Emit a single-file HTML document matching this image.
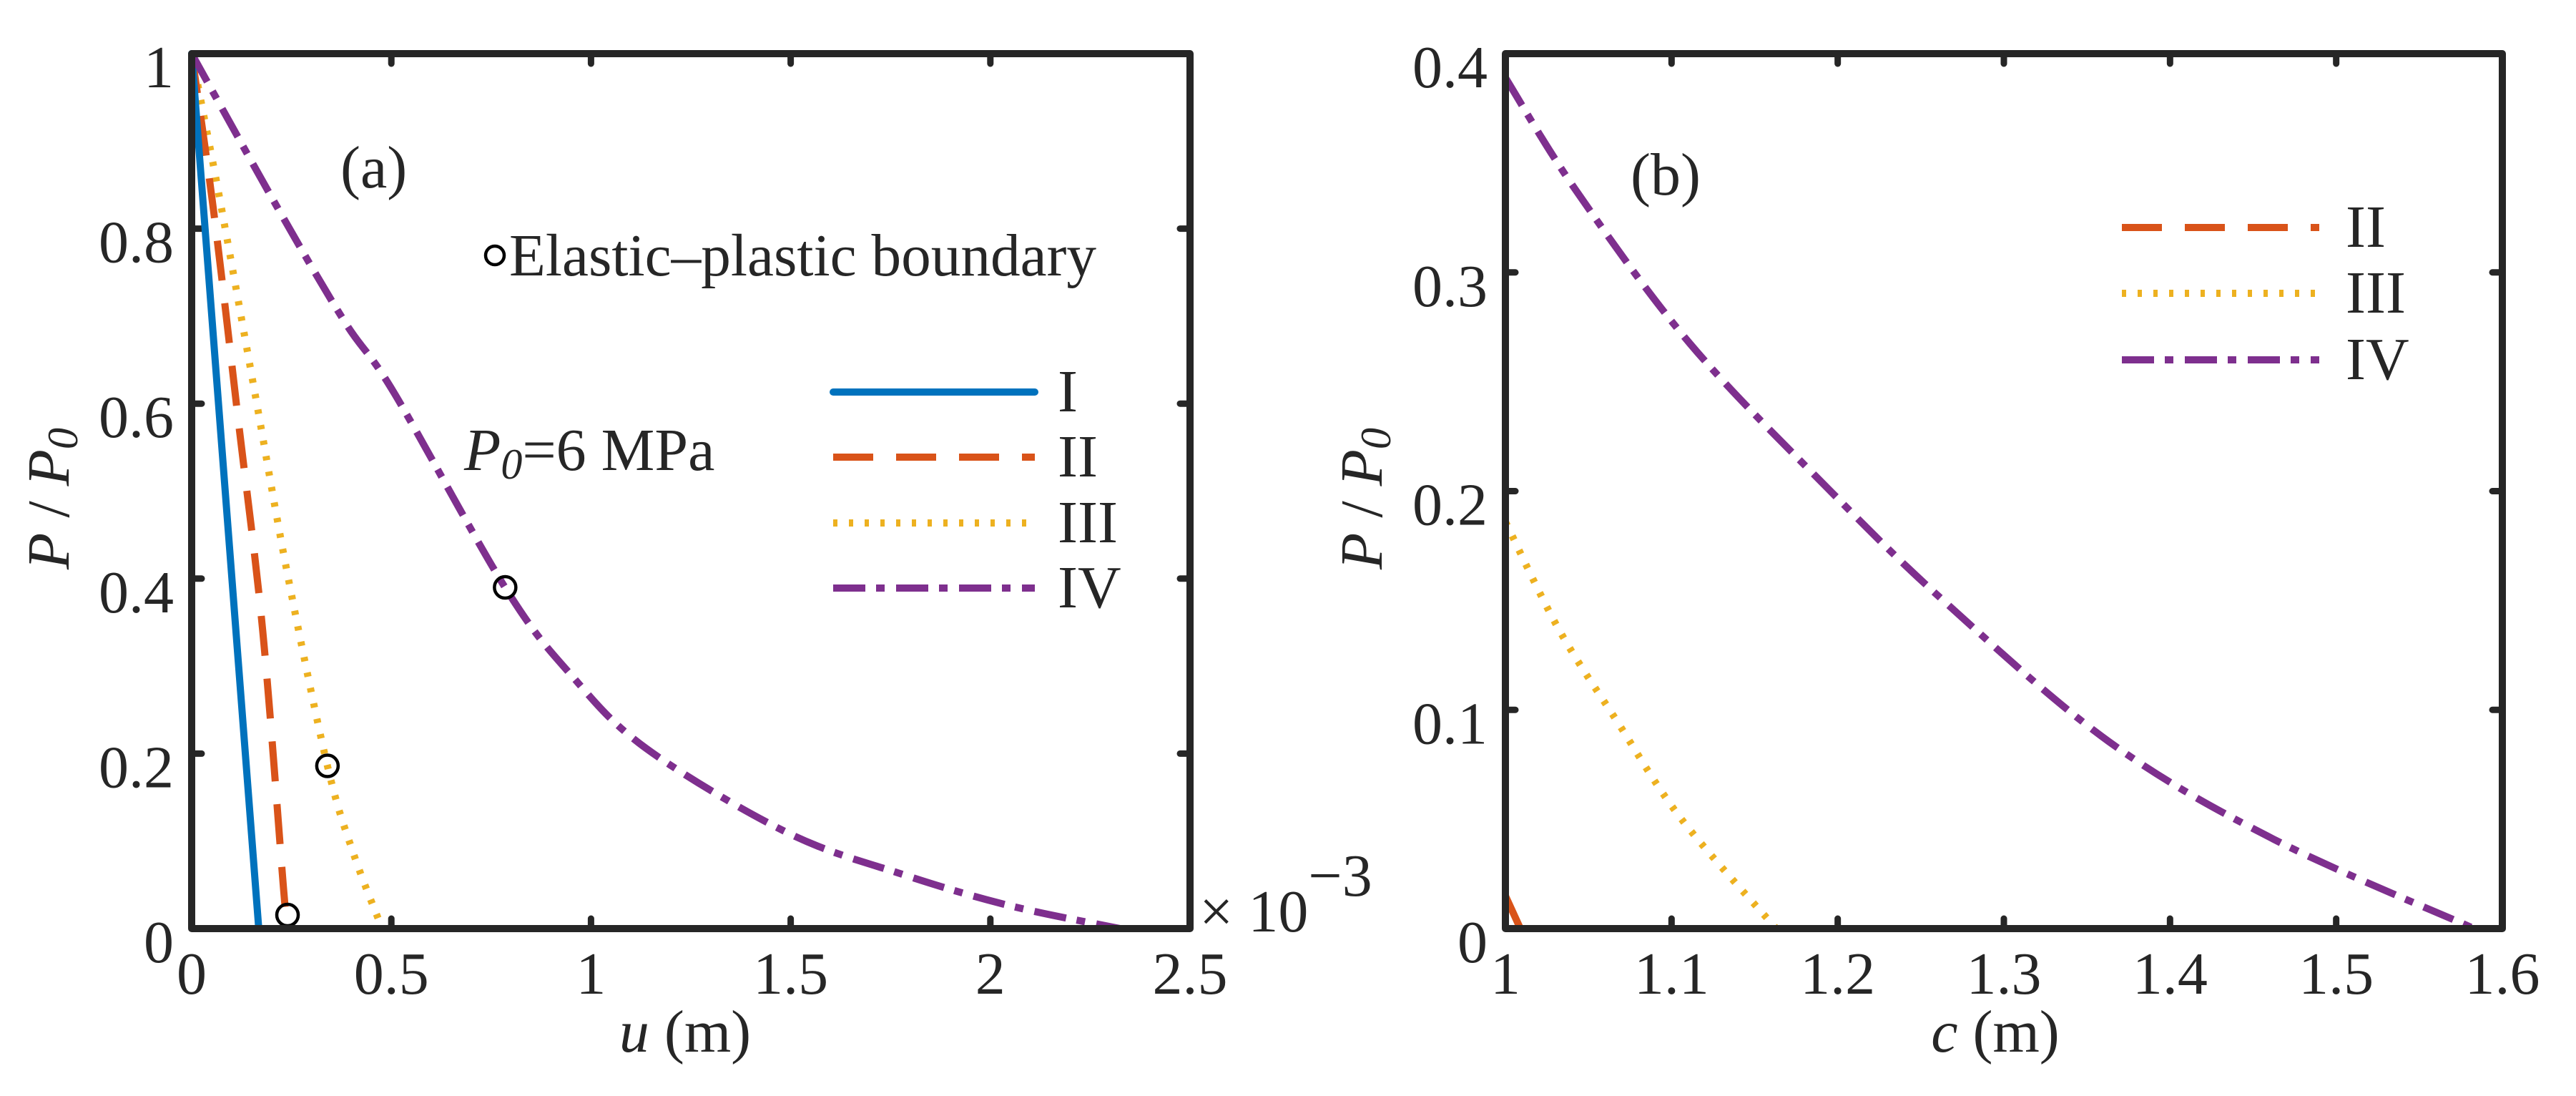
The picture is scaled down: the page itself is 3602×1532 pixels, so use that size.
<!DOCTYPE html>
<html><head><meta charset="utf-8"><style>
html,body{margin:0;padding:0;background:#fff}
svg{display:block}
text{font-family:"Liberation Serif",serif;fill:#262626}
</style></head><body>
<svg id="fig" xmlns="http://www.w3.org/2000/svg" width="3602" height="1532" viewBox="0 0 3602 1532">
<g id="pa"></g>
<g id="pb"></g>
</svg>
<script>
// Panel (a) data: u (x10^-3 m) vs P/P0
const aTicksX = [0, 0.5, 1, 1.5, 2, 2.5];
const aTickLabelsX = ["0", "0.5", "1", "1.5", "2", "2.5"];
const aTicksY = [0, 0.2, 0.4, 0.6, 0.8, 1];
const aTickLabelsY = ["0", "0.2", "0.4", "0.6", "0.8", "1"];
const aIx = [0, 0.168];
const aIy = [1, 0];
const aIIx = [0, 0.055, 0.117, 0.178, 0.23, 0.24];
const aIIy = [1, 0.82, 0.58, 0.34, 0.046, 0];
const aIIIx = [0, 0.03, 0.076, 0.158, 0.24, 0.34, 0.405, 0.477];
const aIIIy = [1, 0.93, 0.82, 0.613, 0.405, 0.186, 0.086, 0];
const aIVx = [0, 0.22, 0.384, 0.506, 0.786, 0.95, 1.138, 1.49, 1.78, 2.05, 2.325];
const aIVy = [1, 0.82, 0.693, 0.613, 0.389, 0.29, 0.206, 0.11, 0.062, 0.026, 0];
const aBoundX = [0.24, 0.34, 0.785];
const aBoundY = [0.0155, 0.186, 0.39];
// Panel (b) data: c (m) vs P/P0
const bTicksX = [1, 1.1, 1.2, 1.3, 1.4, 1.5, 1.6];
const bTickLabelsX = ["1", "1.1", "1.2", "1.3", "1.4", "1.5", "1.6"];
const bTicksY = [0, 0.1, 0.2, 0.3, 0.4];
const bTickLabelsY = ["0", "0.1", "0.2", "0.3", "0.4"];
const bIIx = [1.0, 1.009];
const bIIy = [0.015, 0];
const bIIIx = [1.0, 1.032, 1.067, 1.106, 1.163];
const bIIIy = [0.186, 0.137, 0.095, 0.05, 0];
const bIVx = [1.0, 1.042, 1.111, 1.195, 1.265, 1.363, 1.462, 1.583];
const bIVy = [0.389, 0.338, 0.2675, 0.2005, 0.149, 0.0856, 0.041, 0];

const NS = "http://www.w3.org/2000/svg";
function mk(tag, parent, attrs, txt) {
  const e = document.createElementNS(NS, tag);
  for (const k in attrs) e.setAttribute(k, attrs[k]);
  if (txt !== undefined) e.textContent = txt;
  parent.appendChild(e);
  return e;
}
const COL = {I: "#0072BD", II: "#D95319", III: "#EDB120", IV: "#7E2F8E"};
const STY = {
  I: {dash: "none", cap: "round"},
  II: {dash: "56 32", cap: "butt"},
  III: {dash: "6 16", cap: "butt"},
  IV: {dash: "45 15 12 16", cap: "butt"}
};
const FS = 84;

function smoothPath(xs, ys, sx, sy) {
  const P = xs.map((x, i) => [sx(x), sy(ys[i])]);
  if (P.length < 3) return "M" + P.map(p => p.join(",")).join(" L");
  let d = "M" + P[0][0] + "," + P[0][1];
  for (let i = 0; i < P.length - 1; i++) {
    const p0 = P[Math.max(0, i - 1)], p1 = P[i], p2 = P[i + 1], p3 = P[Math.min(P.length - 1, i + 2)];
    const c1 = [p1[0] + (p2[0] - p0[0]) / 6, p1[1] + (p2[1] - p0[1]) / 6];
    const c2 = [p2[0] - (p3[0] - p1[0]) / 6, p2[1] - (p3[1] - p1[1]) / 6];
    d += " C" + c1.join(",") + " " + c2.join(",") + " " + p2.join(",");
  }
  return d;
}

function axes(g, L, R, T, B, xmin, xmax, ymin, ymax, tx, txl, ty, tyl, prefix) {
  const sx = v => L + (v - xmin) / (xmax - xmin) * (R - L);
  const sy = v => B - (v - ymin) / (ymax - ymin) * (B - T);
  tx.forEach((v, i) => {
    const x = sx(v);
    const t1 = mk("line", g, {x1: x, y1: B, x2: x, y2: B - 14, stroke: "#262626", "stroke-width": 9, "stroke-linecap": "round"});
    
    
    const t2 = mk("line", g, {x1: x, y1: T, x2: x, y2: T + 14, stroke: "#262626", "stroke-width": 9, "stroke-linecap": "round"});
    
    
    const lb = mk("text", g, {x: x, y: 1389, "font-size": FS, "text-anchor": "middle"}, txl[i]);
    
    
  });
  ty.forEach((v, i) => {
    const y = sy(v);
    const t1 = mk("line", g, {x1: L, y1: y, x2: L + 14, y2: y, stroke: "#262626", "stroke-width": 9, "stroke-linecap": "round"});
    
    
    const t2 = mk("line", g, {x1: R, y1: y, x2: R - 14, y2: y, stroke: "#262626", "stroke-width": 9, "stroke-linecap": "round"});
    
    
    const lb = mk("text", g, {x: L - 25, y: y + 47, "font-size": FS, "text-anchor": "end"}, tyl[i]);
    
    
  });
  return {sx, sy};
}
function frame(g, L, R, T, B, prefix) {
  const f = mk("rect", g, {x: L, y: T, width: R - L, height: B - T, fill: "none", stroke: "#262626", "stroke-width": 10, "stroke-linejoin": "round"});
  
  
}
function series(g, xs, ys, sx, sy, key, prefix) {
  const p = mk("path", g, {d: smoothPath(xs, ys, sx, sy), fill: "none", stroke: COL[key], "stroke-width": 10,
    "stroke-dasharray": STY[key].dash, "stroke-linecap": STY[key].cap, "stroke-linejoin": "round"});
  
  
}
function legend(g, x1, x2, tx, rows, prefix) {
  rows.forEach(r => {
    const ln = mk("line", g, {x1: x1, y1: r[1], x2: x2, y2: r[1], stroke: COL[r[0]], "stroke-width": 10,
      "stroke-dasharray": STY[r[0]].dash, "stroke-linecap": r[0] === "I" ? "round" : "butt"});
    
    
    const t = mk("text", g, {x: tx, y: r[1] + 27, "font-size": FS}, r[0]);
    
    
  });
}
function ylabel(g, cx, cy, prefix) {
  const t = mk("text", g, {x: 0, y: 0, "font-size": FS, "text-anchor": "middle", transform: "translate(" + cx + "," + cy + ") rotate(-90)"});
  
  
  mk("tspan", t, {"font-style": "italic"}, "P");
  mk("tspan", t, {}, " / ");
  mk("tspan", t, {"font-style": "italic"}, "P");
  mk("tspan", t, {"font-style": "italic", "font-size": 60, dy: 12}, "0");
}

// ---------- Panel a ----------
const ga = document.getElementById("pa");
const A = axes(ga, 268, 1664, 75, 1298, 0, 2.5, 0, 1, aTicksX, aTickLabelsX, aTicksY, aTickLabelsY, "a");
series(ga, aIIIx, aIIIy, A.sx, A.sy, "III", "a");
series(ga, aIIx, aIIy, A.sx, A.sy, "II", "a");
series(ga, aIx, aIy, A.sx, A.sy, "I", "a");
series(ga, aIVx, aIVy, A.sx, A.sy, "IV", "a");
aBoundX.forEach((v, i) => {
  const c = mk("circle", ga, {cx: A.sx(v), cy: A.sy(aBoundY[i]), r: 15, fill: "none", stroke: "#000", "stroke-width": 4.5});
  
  
});
frame(ga, 268, 1664, 75, 1298, "a");
legend(ga, 1165, 1447, 1479, [["I", 548], ["II", 639], ["III", 731], ["IV", 822]], "a");
const lc = mk("circle", ga, {cx: 692, cy: 357, r: 13, fill: "none", stroke: "#000", "stroke-width": 4.5});


const et = mk("text", ga, {x: 712, y: 385, "font-size": FS, textLength: 821, lengthAdjust: "spacingAndGlyphs"}, "Elastic\u2013plastic boundary");


const ta = mk("text", ga, {x: 476, y: 262, "font-size": FS}, "(a)");


const p0 = mk("text", ga, {x: 649, y: 657, "font-size": FS});


mk("tspan", p0, {"font-style": "italic"}, "P");
mk("tspan", p0, {"font-style": "italic", "font-size": 60, dy: 12}, "0");
mk("tspan", p0, {dy: -12}, "=6 MPa");
const xa = mk("text", ga, {x: 958, y: 1470, "font-size": FS, "text-anchor": "middle"});


mk("tspan", xa, {"font-style": "italic"}, "u");
mk("tspan", xa, {}, " (m)");
ylabel(ga, 96, 697, "a");
const ex = mk("text", ga, {x: 1677, y: 1302, "font-size": FS});


mk("tspan", ex, {}, "\u00d7 10");
mk("tspan", ex, {dy: -50}, "\u22123");

// ---------- Panel b ----------
const gb = document.getElementById("pb");
const Bx = axes(gb, 2105, 3499, 75, 1298, 1, 1.6, 0, 0.4, bTicksX, bTickLabelsX, bTicksY, bTickLabelsY, "b");
series(gb, bIIIx, bIIIy, Bx.sx, Bx.sy, "III", "b");
series(gb, bIIx, bIIy, Bx.sx, Bx.sy, "II", "b");
series(gb, bIVx, bIVy, Bx.sx, Bx.sy, "IV", "b");
frame(gb, 2105, 3499, 75, 1298, "b");
legend(gb, 2967, 3243, 3280, [["II", 318], ["III", 410], ["IV", 503]], "b");
const tb = mk("text", gb, {x: 2280, y: 272, "font-size": FS}, "(b)");


const xb = mk("text", gb, {x: 2790, y: 1470, "font-size": FS, "text-anchor": "middle"});


mk("tspan", xb, {"font-style": "italic"}, "c");
mk("tspan", xb, {}, " (m)");
ylabel(gb, 1932, 697, "b");
</script>
</body></html>
